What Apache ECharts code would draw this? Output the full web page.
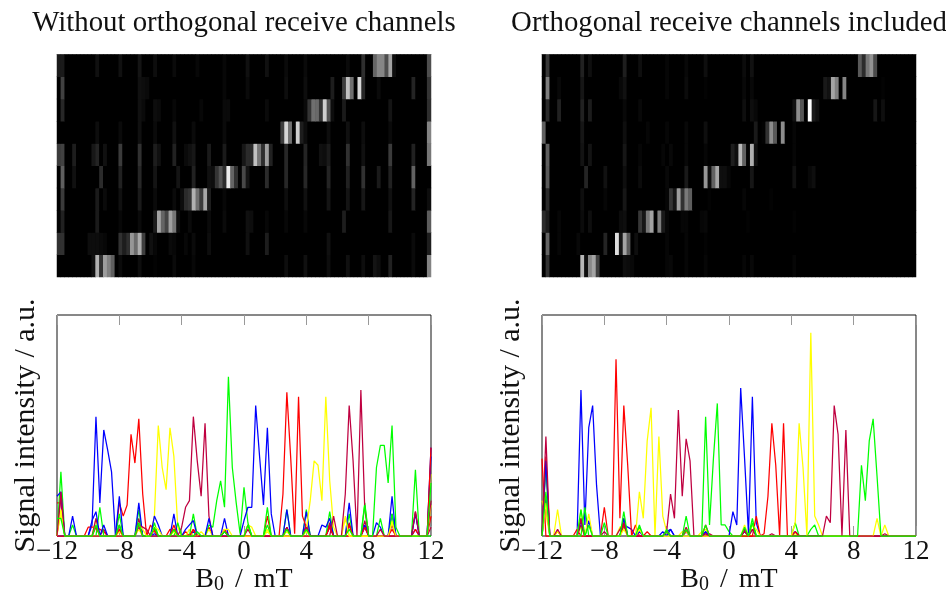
<!DOCTYPE html>
<html>
<head>
<meta charset="utf-8">
<script src="https://cdn.jsdelivr.net/npm/echarts@6/dist/echarts.min.js"></script>
<style>html,body{margin:0;padding:0;background:#fff}#c{width:946px;height:592px}</style>
</head>
<body>
<div id="c"></div>
<script>
// Field samples: one every 0.25 mT, from -12 mT to 12 mT. Each profile lists [sample number, signal]; all other samples are 0.
const fieldStart = -12, fieldStep = 0.25, sampleCount = 97;
const tickLabels = [-12, -8, -4, 0, 4, 8, 12];
const titleLeft = 'Without orthogonal receive channels';
const titleRight = 'Orthogonal receive channels included';
const yName = 'Signal intensity / a.u.';
const colors = ['#0000ff', '#ff0000', '#ffff00', '#bf0040', '#00ff00'];

const left0 = [[9,5],[10,54],[11,15],[12,48],[13,39],[14,29],[16,3],[21,4],[25,1],[30,3],[35,2],[59,4],[64,5],[70,4],[75,5],[79,4],[82,6],[83,4],[86,10],[92,3],[96,40]];
const left1 = [[0,15],[1,15],[8,4],[9,4],[10,4],[11,3],[12,2],[16,15],[17,9],[18,14],[19,46],[20,33],[21,53],[22,19],[24,5],[25,2],[29,3],[30,2],[33,2],[35,3],[39,4],[49,5],[54,9],[70,5],[92,3],[96,9]];
const left2 = [[0,1],[1,10],[10,8],[16,2],[21,3],[25,9],[26,50],[27,31],[28,21],[29,49],[30,36],[31,4],[34,3],[39,3],[43,3],[49,5],[50,4],[54,2],[59,2],[64,2],[74,9],[86,7],[96,28]];
const left3 = [[1,18],[10,8],[12,3],[16,5],[21,8],[25,3],[30,3],[32,4],[33,13],[34,16],[35,54],[36,34],[37,18],[38,51],[39,9],[43,2],[59,4],[64,5],[70,6],[75,6],[79,7],[86,5],[92,11],[96,4]];
const left4 = [[1,29],[4,5],[11,13],[16,10],[21,12],[25,6],[31,6],[35,10],[39,5],[40,4],[41,16],[42,25],[43,13],[44,72],[45,31],[46,15],[47,1],[48,22],[49,6],[54,13],[59,12],[64,12],[70,11],[75,10],[79,15],[83,8],[86,10],[92,30]];
const left5 = [[0,18],[1,20],[4,9],[9,7],[10,11],[12,5],[16,18],[21,15],[25,9],[26,5],[30,10],[33,3],[34,5],[35,7],[39,8],[43,8],[48,7],[49,13],[50,13],[51,59],[52,36],[53,14],[54,49],[55,10],[59,12],[64,11],[68,5],[69,4],[70,8],[75,15],[79,5],[86,18],[92,10],[96,36]];
const left6 = [[10,4],[16,3],[21,5],[25,3],[30,5],[35,3],[43,3],[58,19],[59,65],[60,35],[61,1],[62,63],[63,9],[64,4],[70,4],[75,5],[79,4],[86,3],[96,40]];
const left7 = [[1,12],[21,5],[22,3],[25,4],[26,3],[30,2],[37,2],[43,3],[44,3],[54,3],[64,3],[65,16],[66,34],[67,32],[68,16],[69,63],[70,25],[71,4],[74,8],[86,6],[96,14]];
const left8 = [[1,20],[21,5],[22,4],[23,3],[43,2],[49,3],[59,4],[64,4],[71,9],[74,19],[75,59],[76,34],[78,66],[79,12],[83,3],[92,11],[96,16]];
const left9 = [[0,8],[1,8],[10,5],[16,5],[21,6],[25,4],[30,3],[36,2],[43,2],[49,5],[54,5],[59,3],[64,3],[75,3],[79,14],[82,31],[83,41],[84,41],[85,24],[86,50],[87,4],[96,24]];

const right0 = [[1,18],[10,66],[11,5],[12,49],[13,59],[14,23],[21,5],[22,4],[23,3],[32,2],[33,3],[37,2],[42,2],[52,2],[54,3],[65,2]];
const right1 = [[1,36],[4,2],[9,3],[16,13],[19,80],[20,8],[21,59],[22,32],[24,5],[32,2],[37,2],[42,1]];
const right2 = [[0,16],[1,10],[4,2],[10,4],[12,5],[20,4],[21,5],[25,20],[26,8],[27,43],[28,58],[30,45],[31,9],[32,2],[36,2],[37,2],[41,2],[42,3],[53,1],[65,1]];
const right3 = [[1,15],[10,5],[16,2],[21,8],[32,2],[33,19],[34,8],[35,57],[36,18],[37,44],[38,34],[43,1],[52,2],[59,1]];
const right4 = [[1,32],[11,13],[16,6],[21,5],[25,4],[32,3],[37,9],[42,54],[43,5],[44,35],[45,60],[46,5],[47,5],[48,2],[54,8],[65,6],[69,3],[70,5]];
const right5 = [[1,34],[10,7],[12,7],[21,8],[25,2],[31,2],[33,3],[37,3],[42,2],[49,11],[50,5],[51,67],[52,35],[53,1],[54,63],[55,6],[65,2]];
const right6 = [[0,35],[10,8],[21,5],[27,2],[32,2],[37,3],[42,5],[55,9],[57,1],[58,18],[59,51],[60,32],[62,51],[65,2]];
const right7 = [[1,15],[4,12],[10,12],[12,10],[21,3],[25,3],[52,5],[54,5],[55,3],[65,6],[66,51],[67,31],[69,92],[70,9],[71,5],[86,8],[88,5]];
const right8 = [[1,45],[4,3],[10,8],[20,3],[21,6],[32,2],[37,4],[42,1],[52,3],[54,3],[73,9],[74,6],[75,59],[76,46],[78,48],[88,1]];
const right9 = [[1,20],[10,12],[12,5],[21,11],[25,5],[32,2],[37,3],[42,5],[52,4],[54,6],[82,32],[83,16],[84,43],[85,53],[86,27]];

const leftProfiles = [left0,left1,left2,left3,left4,left5,left6,left7,left8,left9];
const rightProfiles = [right0,right1,right2,right3,right4,right5,right6,right7,right8,right9];
const leftPeak = 78, rightPeak = 92;

function expand(p){
  const a = new Array(sampleCount).fill(0);
  p.forEach(d => { a[d[0]] = d[1]; });
  return a;
}
const FONT = '"Liberation Serif"';
const panels = [
  {l:57, profiles:leftProfiles, peak:leftPeak, title:titleLeft},
  {l:542, profiles:rightProfiles, peak:rightPeak, title:titleRight}
];
const W = 374;
const sampleNames = Array.from({length:sampleCount},(_,i)=>String(i));
const rowNames = leftProfiles.map((_,i)=>String(i));
const opt = {animation:false, backgroundColor:'#fff', title:[], grid:[], xAxis:[], yAxis:[], series:[], visualMap:[]};

panels.forEach((p,pi)=>{
  const g0 = opt.grid.length;
  opt.title.push({text:p.title, left:p.l+187, top:9, padding:0, textAlign:'center',
    textStyle:{fontFamily:FONT,fontSize:28.8,fontWeight:'normal',color:'#111'}});
  // heatmap grid
  opt.grid.push({left:p.l, top:54.5, width:W, height:222.5, show:true, backgroundColor:'#000', borderWidth:0, outerBoundsMode:'none'});
  const xh = opt.xAxis.length;
  opt.xAxis.push({type:'category',gridIndex:g0,data:sampleNames,position:'top',
    axisLine:{show:true,lineStyle:{color:'#aaa',width:1}},axisTick:{show:false},axisLabel:{show:false},splitLine:{show:false}});
  const yh = opt.yAxis.length;
  opt.yAxis.push({type:'category',gridIndex:g0,data:rowNames,show:false});
  const hd = [];
  p.profiles.forEach((prof,r)=>{ expand(prof).forEach((v,c)=>hd.push([c,r,v])); });
  const si = opt.series.length;
  opt.series.push({type:'heatmap',xAxisIndex:xh,yAxisIndex:yh,data:hd,progressive:0,
    itemStyle:{borderWidth:0},emphasis:{disabled:true}});
  opt.visualMap.push({show:false,seriesIndex:si,min:0,max:p.peak,dimension:2,calculable:false,
    inRange:{color:['#000000','#ffffff']}});
  // line grid
  opt.grid.push({left:p.l, top:315, width:W, height:221, show:true, backgroundColor:'#fff', borderColor:'#111', borderWidth:1, outerBoundsMode:'none'});
  const xl = opt.xAxis.length;
  const fmt = v => String(v).replace('-','\u2212');
  opt.xAxis.push({type:'value',gridIndex:g0+1,min:-12,max:12,interval:4,position:'bottom',
    axisLine:{show:false},splitLine:{show:false},
    axisTick:{show:true,inside:true,length:10,lineStyle:{color:'#999',width:1}},
    axisLabel:{fontFamily:FONT,fontSize:27,color:'#111',margin:2,formatter:fmt,showMinLabel:true,showMaxLabel:true},
    name:'{a|B}{s|0}{g| / }{a|mT}',nameLocation:'middle',nameGap:25,
    nameTextStyle:{rich:{a:{fontFamily:FONT,fontSize:28,color:'#111'},g:{fontFamily:FONT,fontSize:28,color:'#111',padding:[0,4,0,4]},s:{fontFamily:FONT,fontSize:20,color:'#111',verticalAlign:'bottom',padding:[10,0,0,0]}}}});
  opt.xAxis.push({type:'value',gridIndex:g0+1,min:-12,max:12,interval:4,position:'top',
    axisLine:{show:false},splitLine:{show:false},axisLabel:{show:false},
    axisTick:{show:true,inside:true,length:10,lineStyle:{color:'#999',width:1}}});
  const yl = opt.yAxis.length;
  opt.yAxis.push({type:'value',gridIndex:g0+1,min:0,max:100,axisLine:{show:false},axisTick:{show:false},
    axisLabel:{show:false},splitLine:{show:false},
    name:yName,nameLocation:'middle',nameGap:16,nameTextStyle:{fontFamily:FONT,fontSize:30,color:'#111'}});
  p.profiles.forEach((prof,r)=>{
    opt.series.push({type:'line',xAxisIndex:xl,yAxisIndex:yl,symbol:'none',smooth:false,clip:false,
      lineStyle:{color:colors[r%colors.length],width:1.25},
      data:expand(prof).map((v,c)=>[fieldStart+c*fieldStep,v])});
  });
});
echarts.init(document.getElementById('c'),null,{renderer:'canvas'}).setOption(opt);
</script>
</body>
</html>
